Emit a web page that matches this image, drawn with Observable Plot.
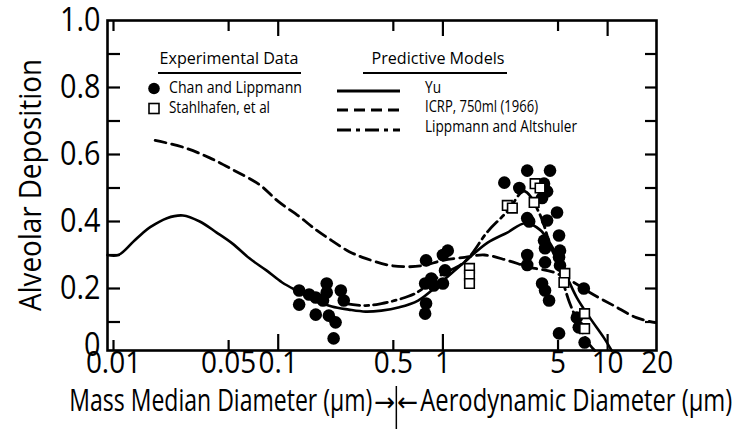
<!DOCTYPE html>
<html><head><meta charset="utf-8">
<script src="https://cdn.jsdelivr.net/npm/d3@7"></script>
<script src="https://cdn.jsdelivr.net/npm/@observablehq/plot@0.6"></script>
<style>
body{margin:0;background:#fff;}
#chart{position:relative;width:741px;height:429px;}
#chart svg{font-family:"Open Sans","Noto Sans",sans-serif;}
</style></head><body><div id="chart"></div>
<script>
// ---- ticks ----
const xTicks = [0.01, 0.05, 0.1, 0.5, 1, 5, 10, 20];
const xTickLabels = ["0.01", "0.05", "0.1", "0.5", "1", "5", "10", "20"];
const xLongTicks = [0.1, 1, 10];
const xShortTicks = [0.01, 0.05, 0.5, 5];
const yTicks = [0.1, 0.2, 0.3, 0.4, 0.5, 0.6, 0.7, 0.8, 0.9];
const yLabelTicks = [0.2, 0.4, 0.6, 0.8, 1.0];
const yTickLabels = ["0.2", "0.4", "0.6", "0.8", "1.0"];
const yZeroLabel = "0";

// ---- model curves ----
const yuX = [0.0092, 0.0107, 0.0132, 0.0150, 0.0167, 0.0211, 0.0264, 0.0334, 0.0423, 0.0528, 0.0669, 0.0848, 0.1057, 0.134, 0.1695, 0.2115, 0.268, 0.339, 0.423, 0.536, 0.707, 0.973, 1.358, 1.87, 2.46, 3.16, 3.89, 4.47, 5.14, 5.66, 6.5, 7.79, 9.46, 10.57];
const yuY = [0.30, 0.30, 0.34, 0.365, 0.383, 0.41, 0.418, 0.40, 0.367, 0.334, 0.29, 0.254, 0.218, 0.19, 0.164, 0.146, 0.137, 0.131, 0.134, 0.143, 0.164, 0.218, 0.28, 0.337, 0.367, 0.395, 0.375, 0.335, 0.28, 0.235, 0.173, 0.113, 0.054, 0.015];

const icrpX = [0.0179, 0.0264, 0.0384, 0.0528, 0.0769, 0.1, 0.134, 0.17, 0.2115, 0.27, 0.339, 0.466, 0.6, 0.75, 1.0, 1.358, 1.79, 2.46, 3.39, 4.73, 6.24, 7.79, 10.87, 14.95, 19.5];
const icrpY = [0.642, 0.622, 0.59, 0.555, 0.51, 0.46, 0.415, 0.375, 0.343, 0.31, 0.29, 0.27, 0.265, 0.268, 0.284, 0.293, 0.30, 0.284, 0.263, 0.248, 0.218, 0.188, 0.149, 0.113, 0.098];

const laX = [0.257, 0.339, 0.423, 0.536, 0.678, 0.973, 1.358, 1.87, 2.46, 3.12, 3.89, 4.47, 4.93, 5.43, 5.90, 6.68, 7.68, 8.35];
const laY = [0.155, 0.149, 0.155, 0.167, 0.185, 0.24, 0.28, 0.37, 0.43, 0.49, 0.42, 0.33, 0.28, 0.21, 0.155, 0.095, 0.036, 0.015];

// ---- experimental data ----
const chanX = [0.134, 0.134, 0.154, 0.169, 0.169, 0.187, 0.197, 0.197, 0.203, 0.223, 0.217, 0.24, 0.25,
  0.79, 1.0, 1.07, 0.85, 0.78, 1.03, 1.0, 0.79, 0.78, 0.88,
  2.36, 3.25, 4.47, 2.91, 4.11, 4.29, 4.0, 4.93, 3.25, 3.34, 4.29, 5.07, 4.11, 4.17, 5.14, 5.07, 3.25, 3.25, 4.17, 5.14, 4.0, 4.17, 4.41, 5.07, 7.17, 6.5, 6.68, 7.25];
const chanY = [0.194, 0.152, 0.182, 0.173, 0.122, 0.164, 0.215, 0.188, 0.119, 0.099, 0.051, 0.194, 0.164,
  0.284, 0.30, 0.313, 0.23, 0.215, 0.254, 0.215, 0.155, 0.125, 0.209,
  0.516, 0.552, 0.552, 0.50, 0.513, 0.49, 0.47, 0.427, 0.41, 0.40, 0.403, 0.358, 0.343, 0.32, 0.313, 0.293, 0.30, 0.27, 0.278, 0.269, 0.215, 0.194, 0.164, 0.066, 0.2, 0.113, 0.084, 0.039];

const stahlX = [1.45, 1.45, 1.45, 2.46, 2.64, 3.63, 3.89, 3.58, 5.5, 5.43, 7.25, 7.25];
const stahlY = [0.26, 0.24, 0.215, 0.448, 0.44, 0.513, 0.50, 0.457, 0.245, 0.218, 0.125, 0.08];

// ---- labels ----
const yTitle = "Alveolar Deposition";
const xTitleLeft = "Mass Median Diameter (µm)";
const xTitleRight = "Aerodynamic Diameter (µm)";
const arrowRight = "→", arrowLeft = "←";
const expHeading = "Experimental Data";
const modHeading = "Predictive Models";
const expNames = ["Chan and Lippmann", "Stahlhafen, et al"];
const modNames = ["Yu", "ICRP, 750ml (1966)", "Lippmann and Altshuler"];

// ---- build tables ----
const yu = yuX.map((x, i) => ({x, y: yuY[i]}));
const icrp = icrpX.map((x, i) => ({x, y: icrpY[i]}));
const la = laX.map((x, i) => ({x, y: laY[i]}));
const chan = chanX.map((x, i) => ({x, y: chanY[i]}));
const stahl = stahlX.map((x, i) => ({x, y: stahlY[i]}));
const xLab = xTicks.map((t, i) => ({t, label: xTickLabels[i]}));
const yLab = yLabelTicks.map((t, i) => ({t, label: yTickLabels[i]}));

const W = 741, H = 429, mL = 107, mR = 85, mT = 20, mB = 79;
const pw = W - mL - mR, ph = H - mT - mB;
const dashed = "11,6", dashDot = "14,5,4,5";
const split = 0.5; // the x value where the two diameter definitions meet

const plot = Plot.plot({
  width: W, height: H,
  marginLeft: mL, marginRight: mR, marginTop: mT, marginBottom: mB,
  x: {type: "log", domain: [0.01, 20], range: [113, 656.7], axis: null},
  y: {domain: [0, 1], range: [355, 20], axis: null},
  style: {color: "#000", background: "#fff"},
  marks: [
    Plot.line(icrp, {x: "x", y: "y", curve: "catmull-rom", stroke: "#000", strokeWidth: 2.8, strokeDasharray: dashed}),
    Plot.line(la, {x: "x", y: "y", curve: "catmull-rom", stroke: "#000", strokeWidth: 2.8, strokeDasharray: dashDot}),
    Plot.line(yu, {x: "x", y: "y", curve: "catmull-rom", stroke: "#000", strokeWidth: 2.6}),
    Plot.dot(chan, {x: "x", y: "y", r: 6.3, fill: "#000"}),
    Plot.dot(stahl, {x: "x", y: "y", symbol: "square", r: 5.4, fill: "#fff", stroke: "#000", strokeWidth: 1.6}),
    Plot.tickX(xLongTicks, {x: d => d, insetBottom: ph - 16, strokeWidth: 2.2}),
    Plot.tickX(xShortTicks, {x: d => d, insetBottom: ph - 11, strokeWidth: 2.2}),
    Plot.tickX(xLongTicks, {x: d => d, insetTop: ph - 16, strokeWidth: 2.2}),
    Plot.tickX(xShortTicks, {x: d => d, insetTop: ph - 10, strokeWidth: 2.2}),
    Plot.tickY(yTicks, {y: d => d, insetRight: pw - 13, strokeWidth: 2.2}),
    Plot.tickY(yTicks, {y: d => d, insetLeft: pw - 11, strokeWidth: 2.2}),
    Plot.frame({stroke: "#000", strokeWidth: 2.6}),
    // tick labels
    Plot.text(xLab, {x: "t", text: "label", frameAnchor: "bottom", dy: 22, fontSize: 31}),
    Plot.text(yLab, {y: "t", text: "label", frameAnchor: "left", dx: -7, textAnchor: "end", fontSize: 32}),
    Plot.text([yZeroLabel], {y: () => 0, frameAnchor: "left", dx: -7, dy: -10, textAnchor: "end", fontSize: 32}),
    // x title
    Plot.text([xTitleLeft], {x: () => split, frameAnchor: "bottom", dy: 60, textAnchor: "end", dx: -21, fontSize: 31}),
    Plot.text([arrowRight], {x: () => split, frameAnchor: "bottom", dy: 60, textAnchor: "end", dx: 2, fontSize: 26, fontFamily: "DejaVu Sans"}),
    Plot.text([arrowLeft], {x: () => split, frameAnchor: "bottom", dy: 60, textAnchor: "start", dx: 4, fontSize: 26, fontFamily: "DejaVu Sans"}),
    Plot.text([xTitleRight], {x: () => split, frameAnchor: "bottom", dy: 60, textAnchor: "start", dx: 27, fontSize: 31}),
    Plot.ruleX([split], {insetTop: ph + 36, insetBottom: -79, dx: 3, strokeWidth: 1.5})
  ]
});
document.getElementById("chart").appendChild(plot);

const svg = d3.select(plot);
// y title
svg.append("text").attr("transform", "translate(41,311) rotate(-90)").attr("text-anchor", "start")
  .attr("font-size", 31).attr("fill", "#000").text(yTitle);

// ---- legend ----
const g = svg.append("g").attr("font-size", 16).attr("fill", "#000").attr("text-anchor", "start");
g.append("text").attr("x", 229).attr("y", 58).attr("text-anchor", "middle").attr("dominant-baseline", "central").text(expHeading);
g.append("line").attr("x1", 158).attr("x2", 301).attr("y1", 73).attr("y2", 73).attr("stroke", "#000").attr("stroke-width", 1.8);
g.append("text").attr("x", 438).attr("y", 58).attr("text-anchor", "middle").attr("dominant-baseline", "central").text(modHeading);
g.append("line").attr("x1", 363).attr("x2", 507).attr("y1", 73).attr("y2", 73).attr("stroke", "#000").attr("stroke-width", 1.8);

g.append("circle").attr("cx", 154).attr("cy", 88.5).attr("r", 5.8).attr("fill", "#000");
g.append("rect").attr("x", 149).attr("y", 103.5).attr("width", 10).attr("height", 10).attr("fill", "#fff").attr("stroke", "#000").attr("stroke-width", 1.6);
expNames.forEach((n, i) => g.append("text").attr("x", 169).attr("y", 87 + i * 20).attr("dominant-baseline", "central").text(n));

const styles = [null, dashed, dashDot];
const lineY = [91, 110, 130], textY = [87, 106, 126];
modNames.forEach((n, i) => {
  g.append("line").attr("x1", 337).attr("x2", 400).attr("y1", lineY[i]).attr("y2", lineY[i])
    .attr("stroke", "#000").attr("stroke-width", 3).attr("stroke-dasharray", styles[i]);
  g.append("text").attr("x", 425).attr("y", textY[i]).attr("dominant-baseline", "central").text(n);
});

// ---- condense the typeface horizontally, as in the reference ----
const targetWidth = new Map([
  [xTitleLeft, 303], [xTitleRight, 312], [arrowRight, 21], [arrowLeft, 21], [yTitle, 252],
  [expHeading, 139], [modHeading, 133],
  [expNames[0], 133], [expNames[1], 101],
  [modNames[0], 16], [modNames[1], 113], [modNames[2], 152]
]);
svg.selectAll("text").each(function() {
  const t = this.textContent;
  const len = this.getComputedTextLength();
  let w = targetWidth.get(t);
  if (w == null) w = len * 0.9;
  this.setAttribute("textLength", w);
  this.setAttribute("lengthAdjust", "spacingAndGlyphs");
});
</script></body></html>
